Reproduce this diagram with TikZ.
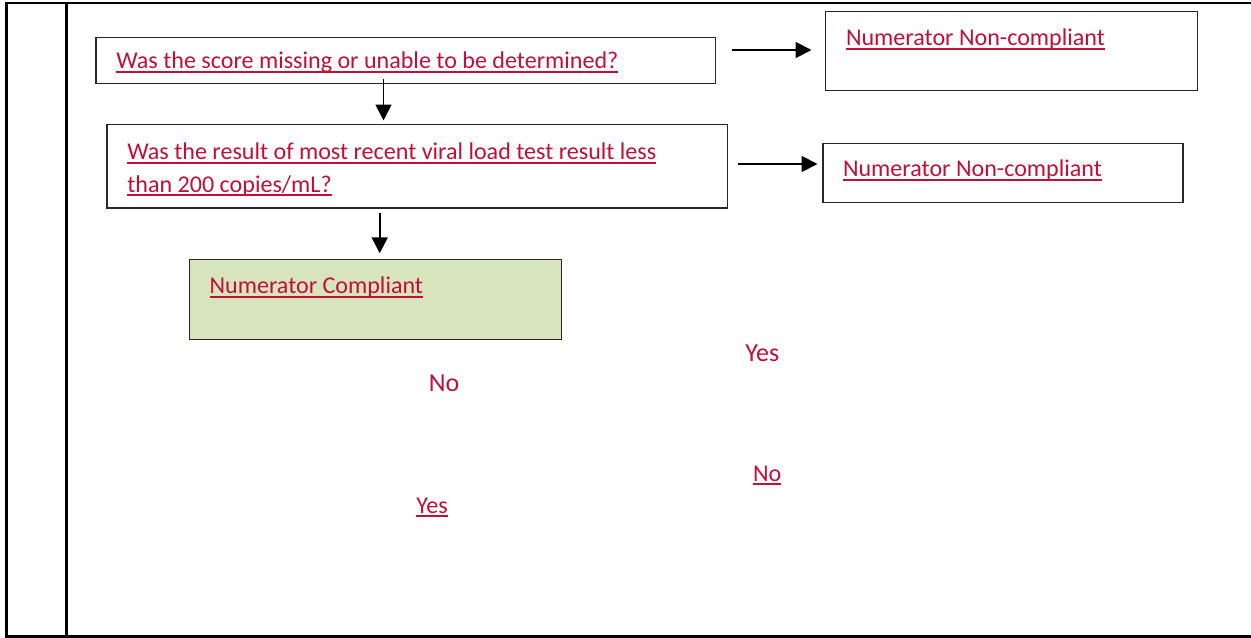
\documentclass[tikz,border=0pt]{standalone}
\usepackage{fontspec}
\setmainfont{Carlito}
\usetikzlibrary{arrows.meta,fit}
\definecolor{linkred}{RGB}{192,16,56}
\definecolor{greenfill}{RGB}{216,228,188}
\definecolor{boxline}{RGB}{40,40,40}
\newcommand{\ulx}[1]{\setbox0\hbox{#1}\rlap{\rule[-2.1pt]{\wd0}{1.1pt}}\box0}
\begin{document}
\begin{tikzpicture}[x=0.02cm,y=-0.02cm,
  frame/.style={line width=1.5pt},
  box/.style={draw=boxline,line width=0.85pt,inner sep=0pt},
  txt/.style={inner sep=0pt,anchor=base west,text=linkred,font=\fontsize{13.7pt}{18.4pt}\selectfont},
  big/.style={inner sep=0pt,anchor=base west,text=linkred,font=\fontsize{14.8pt}{18pt}\selectfont},
  arr/.style={line width=1.05pt,-{Triangle[length=9pt,width=9pt]}}]
\useasboundingbox (0,0) rectangle (1251,638);
% table frame
\draw[frame] (1251,3) -- (6.5,3) -- (6.5,636.5) -- (1251,636.5);
\draw[frame] (66.5,3) -- (66.5,636.5);
% boxes
\node[box,fit={(96,37.7)(715.7,83.3)}] (q1) {};
\node[box,fit={(107,124.7)(727.3,208)}] (q2) {};
\node[box,fit={(825.7,11.3)(1197.7,90.7)}] (nc1) {};
\node[box,fit={(823,143.3)(1183,202.7)}] (nc2) {};
\node[box,fill=greenfill,fit={(189.3,259.7)(561.7,339.7)}] (comp) {};
% texts
\node[txt] (t1) at (116,69) {\ulx{Was the score missing or unable to be determined?}};
\node[txt] (t2a) at (127,160) {\ulx{Was the result of most recent viral load test result less}};
\node[txt] (t2b) at (127,192.5) {\ulx{than 200 copies/mL?}};
\node[txt] (tnc1) at (845.7,46) {\ulx{Numerator Non-compliant}};
\node[txt] (tnc2) at (842.7,177) {\ulx{Numerator Non-compliant}};
\node[txt] (tcomp) at (209.3,294) {\ulx{Numerator Compliant}};
\node[big] (yes1) at (745,362) {Yes};
\node[big] (no1) at (428.5,391.7) {No};
\node[txt] (no2) at (752.7,481) {\ulx{No}};
\node[txt] (yes2) at (416,513) {\ulx{Yes}};
% arrows
\coordinate (a1s) at (731.7,50);   \coordinate (a1e) at (811.5,50);
\coordinate (a2s) at (737.7,164);  \coordinate (a2e) at (817.5,164);
\coordinate (a3s) at (383.5,79);   \coordinate (a3e) at (383.5,120.5);
\coordinate (a4s) at (379.7,212.7);\coordinate (a4e) at (379.7,253.3);
\draw[arr] (a1s) -- (a1e);
\draw[arr] (a2s) -- (a2e);
\draw[arr] (a3s) -- (a3e);
\draw[arr] (a4s) -- (a4e);
\end{tikzpicture}
\end{document}
